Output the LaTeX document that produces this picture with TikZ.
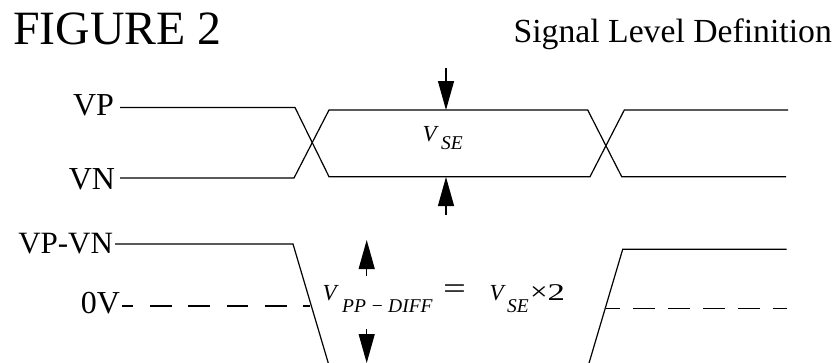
\documentclass[tikz,border=0pt]{standalone}
\usepackage{fontspec}
\usepackage{graphicx}
\setmainfont{Liberation Serif}
\usetikzlibrary{arrows.meta}
\newcommand{\fsz}[1]{\fontsize{#1}{#1}\selectfont}
\newcommand{\at}[2]{\rlap{\hspace{#1}#2}}
\begin{document}
\begin{tikzpicture}[x=1pt,y=-1pt,
  sig/.style={line width=1.2pt,line join=miter},
  dashlev/.style={line width=1.2pt,dash pattern=on 21.7pt off 16.6pt},
  measarrow/.style={line width=1.2pt,-{Triangle[length=29pt,width=16pt]}},
  lbl/.style={inner sep=0pt,outer sep=0pt,font=\fsz{32}}]
\useasboundingbox (0,0) rectangle (840,362);
\clip (0,0) rectangle (840,362);
% titles
\node[inner sep=0pt,anchor=base west,font=\fsz{47.8}] (fig) at (13,44.3) {FIGURE 2};
\node[inner sep=0pt,anchor=base east,font=\fsz{33.7}] (title) at (832,42) {Signal Level Definition};
% labels
\node[lbl,anchor=base east] (vp) at (114,115) {VP};
\node[lbl,anchor=base east] (vn) at (115,189) {VN};
\node[lbl,anchor=base east,font=\fsz{31}] (vpvn) at (113,253) {VP-VN};
\node[lbl,anchor=base east] (zero) at (120,313.3) {0V};
% single-ended waveforms
\draw[sig] (120,107.5) -- (295,107.5) -- (329,176.7) -- (590,176.7) -- (624.3,110) -- (788,110);
\draw[sig] (120,178) -- (294,178) -- (329,110) -- (587.7,110) -- (621.7,176.7) -- (786,176.7);
% differential waveform
\draw[sig] (115,244) -- (293,244) -- (333.3,380);
\draw[sig] (584,380) -- (622.7,249.3) -- (786.7,249.3);
\draw[dashlev,dash phase=10.3pt] (122,306) -- (310,306);
\draw[line width=1.2pt,dash pattern=on 21.7pt off 13.3pt,dash phase=7.7pt] (606,308.3) -- (786.7,308.3);
% V_SE arrows
\coordinate (a1s) at (446,68);
\coordinate (a1t) at (446,110);
\coordinate (a2s) at (446,215);
\coordinate (a2t) at (446,177);
\draw[measarrow] (a1s) -- (a1t);
\draw[measarrow] (a2s) -- (a2t);
\node[inner sep=0pt,anchor=base west] (vse) at (422,141.7)
  {\at{0pt}{\fsz{23}\itshape V}\at{18.5pt}{\raisebox{-8pt}{\fsz{19.5}\itshape SE}}};
% V_PP-DIFF arrows
\coordinate (a3s) at (366.7,276);
\coordinate (a3t) at (366.7,240);
\coordinate (a4s) at (366.7,329.3);
\coordinate (a4t) at (366.7,363);
\draw[measarrow] (a3s) -- (a3t);
\draw[measarrow] (a4s) -- (a4t);
\node[inner sep=0pt,anchor=base west] (eq) at (322,300.5)
  {\at{0pt}{\fsz{23}\itshape V}%
   \at{19.5pt}{\raisebox{-11.7pt}{\fsz{19.5}\itshape PP\hspace{4.5pt}\char"2212\hspace{4.5pt}DIFF}}%
   \at{120.5pt}{\raisebox{2pt}{\fsz{30}\scalebox{1.35}[1]{=}}}%
   \at{167pt}{\fsz{23}\itshape V}%
   \at{184.5pt}{\raisebox{-11.5pt}{\fsz{19.5}\itshape SE}}%
   \at{207.5pt}{\fsz{26}\scalebox{1.2}[1]{\char"00D7}}%
   \at{225pt}{\fsz{24}\scalebox{1.45}[1]{2}}};
\end{tikzpicture}
\end{document}
